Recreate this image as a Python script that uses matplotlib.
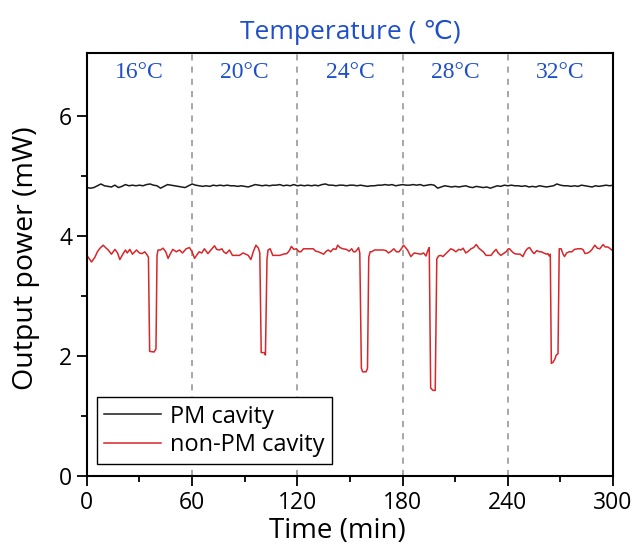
import numpy as np
import matplotlib
matplotlib.use("Agg")
import matplotlib.pyplot as plt

plt.rcParams['font.family'] = ['Open Sans', 'DejaVu Sans']

# PM cavity, sampled every 2 min
pm_t = np.arange(0, 301, 2)
pm_p = [4.81, 4.80, 4.81, 4.84, 4.87, 4.84, 4.83, 4.82, 4.85, 4.81,
        4.83, 4.86, 4.84, 4.85, 4.84, 4.85, 4.84, 4.86, 4.87, 4.85,
        4.84, 4.80, 4.83, 4.86, 4.85, 4.84, 4.83, 4.82, 4.81, 4.84,
        4.87, 4.85, 4.84, 4.83, 4.84, 4.83, 4.85, 4.84, 4.85, 4.84,
        4.85, 4.84, 4.84, 4.83, 4.84, 4.83, 4.82, 4.84, 4.86, 4.85,
        4.84, 4.85, 4.84, 4.85, 4.85, 4.86, 4.84, 4.85, 4.84, 4.86,
        4.84, 4.85, 4.84, 4.85, 4.84, 4.85, 4.84, 4.86, 4.87, 4.85,
        4.85, 4.84, 4.85, 4.85, 4.84, 4.85, 4.85, 4.84, 4.85, 4.84,
        4.83, 4.84, 4.84, 4.85, 4.85, 4.86, 4.85, 4.86, 4.84, 4.85,
        4.86, 4.85, 4.85, 4.86, 4.85, 4.86, 4.84, 4.85, 4.86, 4.85,
        4.80, 4.82, 4.84, 4.83, 4.82, 4.83, 4.82, 4.83, 4.84, 4.82,
        4.81, 4.83, 4.82, 4.81, 4.82, 4.80, 4.82, 4.84, 4.83, 4.85,
        4.84, 4.85, 4.84, 4.84, 4.83, 4.84, 4.82, 4.83, 4.82, 4.84,
        4.83, 4.82, 4.83, 4.84, 4.87, 4.85, 4.84, 4.84, 4.83, 4.84,
        4.83, 4.85, 4.84, 4.83, 4.82, 4.84, 4.83, 4.84, 4.85, 4.84,
        4.85]

# non-PM cavity
npm_t = [0, 1.5, 2.7, 4.6, 6, 7.5, 9.3, 11, 12.2, 14, 16, 17.5, 18.8, 20.5, 22, 23,
         24.5, 26, 28.3, 30, 31.5, 33, 34.3, 35.1, 35.8, 38.3, 39.4, 40.0, 40.6, 42,
         43.4, 45, 46.3, 47.5, 49, 51, 52.8, 54.5, 56.6, 58.5, 60, 61.4, 63, 64, 65.5,
         67, 69, 71, 72.8, 74, 75.6, 77, 78, 79.4, 81.3, 83, 85, 87, 89, 90.6, 92, 93.5,
         95, 96.4, 97.8, 98.6, 99.4, 101.2, 101.8, 102.7, 103.3, 104.5, 106, 108, 110,
         112, 114, 115.5, 116.6, 118, 119.5, 121, 122, 123.5, 125, 127, 129, 130.5, 132,
         133.5, 135, 136.5, 137.6, 139, 140.5, 142, 143, 144.3, 146, 148, 149.5, 151,
         152, 153, 154, 154.9, 155.6, 156.5, 157.2, 159.2, 160, 160.7, 161.5, 162.4, 164,
         165, 167, 169, 170.5, 172, 173.5, 175, 176.5, 178, 179.5, 180.5, 182, 182.8,
         184.7, 186.6, 188.5, 190.4, 192, 193.3, 194.5, 195.2, 196.0, 197.3, 198.6,
         199.5, 200.5, 201.8, 203, 204.7, 206, 207.5, 209, 210.4, 212, 213.3, 214.5, 216,
         217.5, 219, 220.5, 222, 223.5, 224.7, 226, 227.6, 229, 230.4, 232, 233.3, 234.5,
         236, 237.5, 239, 240.3, 241, 242.5, 243.8, 245.5, 247, 248.6, 249.5, 250.5,
         251.5, 252.4, 254, 255, 256.5, 258, 259, 260.5, 262, 262.8, 263.6, 264.2, 264.8,
         265.8, 266.8, 267.6, 268.6, 269.3, 270.4, 271.5, 272.3, 273.5, 275, 276.5, 278,
         280, 282, 283, 284, 285.5, 286.7, 288, 289.6, 291, 292.4, 293.5, 294.3, 295.5,
         297, 298.5, 300]
npm_p = [3.68, 3.62, 3.57, 3.65, 3.74, 3.80, 3.85, 3.80, 3.77, 3.70, 3.78, 3.72, 3.61,
         3.70, 3.77, 3.72, 3.78, 3.70, 3.77, 3.72, 3.71, 3.74, 3.69, 3.65, 2.08, 2.07,
         2.12, 3.68, 3.77, 3.77, 3.80, 3.74, 3.63, 3.70, 3.78, 3.74, 3.77, 3.72, 3.79,
         3.81, 3.74, 3.63, 3.70, 3.74, 3.72, 3.79, 3.71, 3.78, 3.84, 3.78, 3.77, 3.79,
         3.74, 3.71, 3.77, 3.68, 3.68, 3.68, 3.72, 3.70, 3.68, 3.61, 3.75, 3.85, 3.80,
         3.72, 2.06, 2.06, 2.02, 3.62, 3.77, 3.79, 3.68, 3.68, 3.68, 3.70, 3.71, 3.76,
         3.83, 3.78, 3.79, 3.74, 3.74, 3.79, 3.79, 3.79, 3.79, 3.75, 3.74, 3.72, 3.70,
         3.75, 3.77, 3.74, 3.79, 3.78, 3.85, 3.81, 3.79, 3.78, 3.75, 3.79, 3.74, 3.74,
         3.77, 3.81, 3.72, 1.80, 1.74, 1.74, 1.80, 3.65, 3.74, 3.74, 3.77, 3.77, 3.77,
         3.77, 3.76, 3.72, 3.75, 3.79, 3.74, 3.74, 3.80, 3.85, 3.80, 3.77, 3.66, 3.72,
         3.71, 3.70, 3.72, 3.67, 3.77, 3.81, 1.47, 1.43, 1.43, 3.62, 3.67, 3.68, 3.66,
         3.71, 3.75, 3.79, 3.77, 3.74, 3.78, 3.77, 3.80, 3.72, 3.75, 3.79, 3.81, 3.86,
         3.80, 3.77, 3.74, 3.68, 3.68, 3.68, 3.74, 3.78, 3.72, 3.68, 3.71, 3.74, 3.79,
         3.79, 3.74, 3.71, 3.70, 3.70, 3.66, 3.72, 3.77, 3.80, 3.81, 3.74, 3.71, 3.76,
         3.74, 3.74, 3.72, 3.70, 3.71, 3.67, 3.70, 1.88, 1.90, 1.95, 2.02, 2.04, 3.79,
         3.79, 3.70, 3.66, 3.72, 3.74, 3.74, 3.78, 3.79, 3.79, 3.77, 3.71, 3.72, 3.74,
         3.78, 3.85, 3.80, 3.79, 3.83, 3.86, 3.82, 3.82, 3.79, 3.75]

temps = ['16°C', '20°C', '24°C', '28°C', '32°C']
temp_centers = [30, 90, 150, 210, 270]
boundaries = [60, 120, 180, 240]
blue = '#1f4fc8'

fig = plt.figure(figsize=(6.34, 5.48), dpi=100)
ax = fig.add_axes([0.137, 0.131, 0.830, 0.772])

ax.plot(pm_t, pm_p, color='#1a1a1a', lw=1.1, label='PM cavity')
ax.plot(npm_t, npm_p, color='#d8262a', lw=1.1, label='non-PM cavity')

for b in boundaries:
    ax.axvline(b, color='#909090', lw=1.1, ls=(0, (4, 4)), zorder=0)

for c, s in zip(temp_centers, temps):
    ax.text(c, 6.72, s, color=blue, fontsize=17, family='Liberation Serif',
            ha='center', va='center')

ax.set_xlim(0, 300)
ax.set_ylim(0, 7.05)
ax.set_xticks([0, 60, 120, 180, 240, 300])
ax.set_xticks([30, 90, 150, 210, 270], minor=True)
ax.set_yticks([0, 2, 4, 6])
ax.set_yticks([1, 3, 5], minor=True)
ax.tick_params(which='major', direction='out', length=7, width=1.3, labelsize=16.5)
ax.tick_params(which='minor', direction='out', length=4, width=1.3)
for sp in ax.spines.values():
    sp.set_linewidth(1.5)

ax.set_xlabel('Time (min)', fontsize=20)
ax.xaxis.set_label_coords(0.477, -0.097)
ax.set_ylabel('Output power (mW)', fontsize=20.5)
ax.yaxis.set_label_coords(-0.089, 0.515)
ax.set_title('Temperature ( ℃)', fontsize=19, color=blue, pad=10)

leg = ax.legend(loc='lower left', bbox_to_anchor=(0.019, 0.028), borderaxespad=0,
                fontsize=17, handlelength=2.4, fancybox=False, framealpha=1,
                edgecolor='black', borderpad=0.3, labelspacing=0.2, handletextpad=0.4)
leg.get_frame().set_linewidth(1.0)

fig.savefig('out.png', dpi=100)
